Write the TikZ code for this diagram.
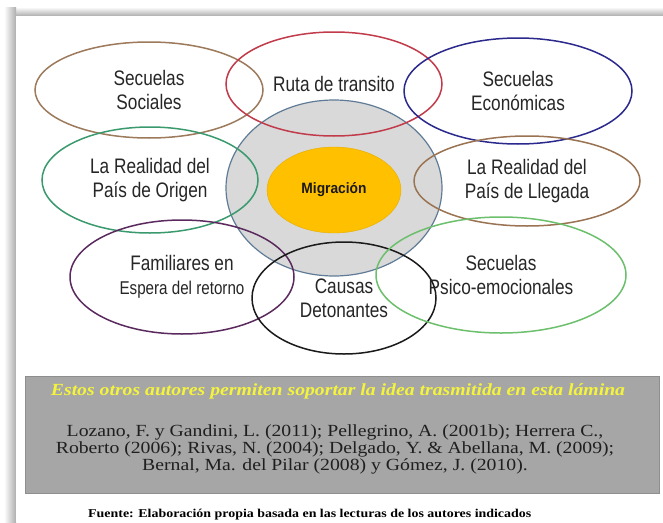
\documentclass[tikz,border=0pt]{standalone}
\usepackage{fontspec}
\setmainfont{Liberation Serif}
\newfontfamily\wideserif[FakeStretch=1.16]{Liberation Serif}
\newfontfamily\narrowsans[FakeStretch=0.82]{Liberation Sans}
\newfontfamily\migfont[FakeStretch=0.92]{Liberation Sans}
\usetikzlibrary{shapes.geometric}
\definecolor{cSoc}{HTML}{9C7A5B}
\definecolor{cRuta}{HTML}{C23B4B}
\definecolor{cEco}{HTML}{2B2A8C}
\definecolor{cOrig}{HTML}{3A9A6E}
\definecolor{cLleg}{HTML}{9A7352}
\definecolor{cFam}{HTML}{5A2A5E}
\definecolor{cCaus}{HTML}{1A1A1A}
\definecolor{cPsic}{HTML}{6CBF6C}
\definecolor{cGreyFill}{HTML}{D9D9D9}
\definecolor{cGreyLine}{HTML}{5F7B96}
\definecolor{cOrange}{HTML}{FFC000}
\definecolor{cTxt}{HTML}{262626}
\definecolor{cBox}{HTML}{A6A6A6}
\definecolor{cBoxLine}{HTML}{8E8E8E}
\definecolor{cYellow}{HTML}{F4F43C}
\begin{document}
\begin{tikzpicture}[x=1pt,y=-1pt,
  bub/.style={ellipse, draw, line width=1.5pt, inner sep=0pt, align=center, text=cTxt,
    font=\narrowsans\fontsize{21}{24}\selectfont},
  reftext/.style={align=center, text=black!88, font=\wideserif\fontsize{17}{17}\selectfont},
]
\useasboundingbox (0,0) rectangle (663,522);
\fill[white] (0,0) rectangle (663,522);
% shadow of the panel
\shade[top color=white, bottom color=black!32] (4,7) rectangle (663,16);
\shade[left color=white, right color=black!32] (4,7) rectangle (16,522);
\fill[white] (16,16) rectangle (663,522);

% central circle
\node[ellipse, fill=cGreyFill, draw=cGreyLine, line width=1.2pt, minimum width=216pt, minimum height=176pt, inner sep=0pt] (centro) at (334,188) {};
\node[ellipse, fill=cOrange, draw=cOrange!90!black, line width=0.4pt, minimum width=134pt, minimum height=86pt, inner sep=0pt,
  font=\migfont\bfseries\fontsize{15}{18}\selectfont, text=black!90] (mig) at (334,190) {Migración};

% surrounding ellipses
\node[bub, draw=cSoc, minimum width=228pt, minimum height=96pt] (soc) at (149,90) {Secuelas\\Sociales};
\node[bub, draw=cRuta, minimum width=216pt, minimum height=104pt] (ruta) at (334,84) {Ruta de transito};
\node[bub, draw=cEco, minimum width=228pt, minimum height=106pt] (eco) at (518,91) {Secuelas\\Económicas};
\node[bub, draw=cOrig, minimum width=216pt, minimum height=106pt] (orig) at (150,180) {La Realidad del\\País de Origen};
\node[bub, draw=cLleg, minimum width=226pt, minimum height=90pt] (lleg) at (527,181) {La Realidad del\\País de Llegada};
\node[bub, draw=cFam, minimum width=224pt, minimum height=114pt] (fam) at (182,277) {Familiares en\\{\fontsize{18.5}{22}\selectfont Espera del retorno}};
\node[bub, draw=cCaus, minimum width=184pt, minimum height=112pt] (caus) at (344,298) {Causas\\Detonantes};
\node[bub, draw=cPsic, minimum width=250pt, minimum height=116pt] (psic) at (501,275) {Secuelas\\Psico-emocionales};

% grey box with references
\node[rectangle, fill=cBox, draw=cBoxLine, line width=0.6pt, minimum width=634pt, minimum height=117pt, inner sep=0pt] (caja) at (342,434.5) {};
\node[anchor=base, inner sep=0pt, text=cYellow, font=\wideserif\bfseries\itshape\fontsize{17}{20}\selectfont] (lema) at (338,395) {Estos otros autores permiten soportar la idea trasmitida en esta lámina};
\node[reftext] (refs) at (335,449) {Lozano, F. y Gandini, L. (2011); Pellegrino, A. (2001b); Herrera C.,\\Roberto (2006); Rivas, N. (2004); Delgado, Y. \& Abellana, M. (2009);\\Bernal, Ma. del Pilar (2008) y Gómez, J. (2010).};

% footer
\node[anchor=base west, inner sep=0pt, text=black, font=\wideserif\bfseries\fontsize{12}{14}\selectfont] (fuente) at (88,517.5) {Fuente: Elaboración propia basada en las lecturas de los autores indicados};
\end{tikzpicture}
\end{document}
